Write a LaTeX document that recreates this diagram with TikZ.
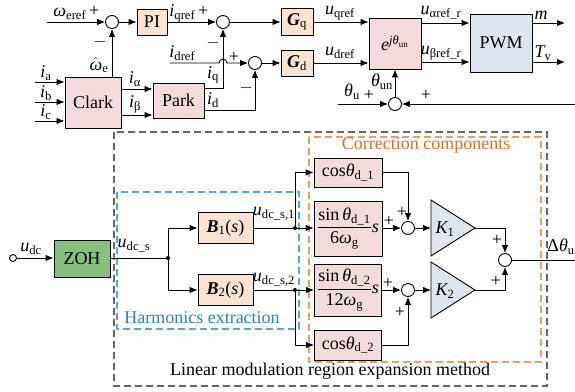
\documentclass[tikz,border=0pt]{standalone}
\usepackage{amsmath}
\usepackage{fontspec}
\setmainfont{Liberation Serif}
\usetikzlibrary{arrows.meta}
\newcommand{\vv}[2]{\ensuremath{\textit{#1}_{\text{#2}}}}
\definecolor{peach}{HTML}{FBE3D3}
\definecolor{pinkb}{HTML}{F2DCDB}
\definecolor{blueg}{HTML}{DEE5EF}
\definecolor{zohg}{HTML}{86BF7F}
\definecolor{dashblue}{HTML}{5AA2DA}
\definecolor{txtblue}{HTML}{2F7FC4}
\definecolor{dashor}{HTML}{EE9A6A}
\definecolor{txtor}{HTML}{E2692C}
\definecolor{dashgray}{HTML}{666666}
\begin{document}
\begin{tikzpicture}[x=1pt,y=-1pt,line width=0.9pt,
  every node/.style={font=\fontsize{18}{21}\selectfont,inner sep=0pt},
  >={Latex[length=8pt,width=6.5pt]},
  pblock/.style={draw,fill=peach},
  kblock/.style={draw,fill=pinkb},
  bblock/.style={draw,fill=blueg},
  sumc/.style={circle,draw,fill=white,minimum size=13pt,inner sep=0pt},
  dotc/.style={circle,fill,minimum size=4pt,inner sep=0pt},
  incirc/.style={circle,draw,fill=white,minimum size=7pt,inner sep=0pt},
  gdash/.style={draw=dashgray,line width=1.1pt,dash pattern=on 7pt off 4pt},
  bdash/.style={draw=dashblue,line width=1.1pt,dash pattern=on 7pt off 4pt},
  odash/.style={draw=dashor,line width=1.1pt,dash pattern=on 7pt off 4pt}]
\useasboundingbox (0,0) rectangle (575,391);

% ---------------- dashed frames ----------------
\draw[gdash] (114,132) rectangle (547,386);
\draw[bdash] (117,192) rectangle (299,329);
\draw[odash] (309,137) rectangle (541,362);
\node[text=txtor] (tcc) at (426,145) {Correction components};
\node[text=txtblue] (the) at (202,318) {Harmonics extraction};
\node (tlm) at (330,371) {Linear modulation region expansion method};

% ---------------- top part ----------------
\node[sumc] (s1) at (112,22) {};
\node[pblock,minimum width=30pt,minimum height=26pt] (PI) at (152,22) {PI};
\node[sumc] (s2) at (223,22) {};
\node[pblock,minimum width=32pt,minimum height=27pt] (Gq) at (297,22) {\textbf{\textit{G}}$_{\text{q}}$};
\node[pblock,minimum width=32pt,minimum height=26pt] (Gd) at (297,63) {\textbf{\textit{G}}$_{\text{d}}$};
\node[sumc] (s3) at (255,63) {};
\node[kblock,minimum width=52pt,minimum height=51pt] (E) at (395,43.5) {$\textit{e}^{\textit{jθ}_{\text{un}}}$};
\node[bblock,minimum width=62pt,minimum height=58pt] (PWM) at (501,43) {PWM};
\node[kblock,minimum width=56pt,minimum height=51pt] (Clark) at (93,102.5) {Clark};
\node[kblock,minimum width=51pt,minimum height=35pt] (Park) at (178.5,100.5) {Park};
\node[sumc] (s4) at (395,104) {};

\coordinate (win) at (47,22);
\coordinate (idin) at (170,63);
\coordinate (tuin) at (338,104);
\coordinate (fbin) at (575,104);
\coordinate (mout) at (565,23);
\coordinate (tvout) at (565,62);

\draw[->] (win) -- (s1.west);
\draw[->] (s1.east) -- (PI.west);
\draw[->] (PI.east) -- (s2.west);
\draw[->] (s2.east) -- (Gq.west);
\draw[->] (Gq.east) -- (E.west |- Gq.east);
\draw[->] (Gd.east) -- (E.west |- Gd.east);
\draw[->] (s3.east) -- (Gd.west);
\draw[->] (idin) -- (219,63) arc (180:360:4) -- (s3.west);
\draw[->] (s1 |- Clark.north) -- (s1.south);
\draw[->] (Park.east |- 0,88) -- (s2 |- 0,88) -- (s2.south);
\draw[->] (Park.east |- 0,110) -- (s3 |- 0,110) -- (s3.south);
\draw[->] (35,82) -- (Clark.west |- 0,82);
\draw[->] (35,102) -- (Clark.west |- 0,102);
\draw[->] (35,121) -- (Clark.west |- 0,121);
\draw[->] (Clark.east |- 0,89) -- (Park.west |- 0,89);
\draw[->] (Clark.east |- 0,115) -- (Park.west |- 0,115);
\draw[->] (E.east |- 0,23) -- (PWM.west |- 0,23);
\draw[->] (E.east |- 0,62) -- (PWM.west |- 0,62);
\draw[->] (PWM.east |- mout) -- (mout);
\draw[->] (PWM.east |- tvout) -- (tvout);
\draw[->] (s4.north) -- (E.south);
\draw[->] (tuin) -- (s4.west);
\draw[->] (fbin) -- (s4.east);

% top labels
\node[anchor=west] (lwe) at (53,13) {\vv{ω}{eref}\,+};
\node[anchor=west] (liq) at (169,13) {\vv{i}{qref}\,+};
\node (lm2) at (213,43) {$-$};
\node[anchor=west] (lid) at (169,53) {\vv{i}{dref}};
\node (lp3) at (234,57) {+};
\node (lm3) at (246,88) {$-$};
\node (liqq) at (213,75) {\vv{i}{q}};
\node (lidd) at (213,100) {\vv{i}{d}};
\node (luq) at (340,13) {\vv{u}{qref}};
\node (lud) at (340,53) {\vv{u}{dref}};
\node (lua) at (441,13) {\vv{u}{αref\_r}};
\node (lub) at (441,53) {\vv{u}{βref\_r}};
\node (lmm) at (541,15) {\textit{m}};
\node (ltv) at (543,53) {\vv{T}{v}};
\node (ltun) at (382,82) {\vv{θ}{un}};
\node (ltu) at (352,92) {\vv{θ}{u}};
\node (lp4a) at (369,95) {+};
\node (lp4b) at (426,95) {+};
\node (lwh) at (99,65) {$\hat{\textit{ω}}_{\text{e}}$};
\node (lm1) at (100,42) {$-$};
\node (lia) at (46,73) {\vv{i}{a}};
\node (lib) at (46,93) {\vv{i}{b}};
\node (lic) at (46,112) {\vv{i}{c}};
\node (lial) at (135,79) {\vv{i}{α}};
\node (libe) at (135,104) {\vv{i}{β}};

% ---------------- bottom part ----------------
\node[incirc] (udin) at (13,258) {};
\node[draw,fill=zohg,minimum width=56pt,minimum height=37pt] (ZOH) at (82,258.5) {ZOH};
\node[dotc] (d0) at (168,258) {};
\node[pblock,minimum width=55pt,minimum height=31pt] (B1) at (225.5,228) {\textbf{\textit{B}}$_{\text{1}}$(\textit{s})};
\node[pblock,minimum width=55pt,minimum height=31pt] (B2) at (225.5,290) {\textbf{\textit{B}}$_{\text{2}}$(\textit{s})};
\node[dotc] (d1) at (295,228) {};
\node[dotc] (d2) at (295,290) {};
\node[kblock,minimum width=68pt,minimum height=29pt] (C1) at (348,172.5) {cos\vv{θ}{d\_1}};
\node[kblock,minimum width=68pt,minimum height=55pt] (S1) at (348,228.5) {$\dfrac{\text{sin}\,\textit{θ}_{\text{d\_1}}}{\text{6}\textit{ω}_{\text{g}}}\textit{s}$};
\node[kblock,minimum width=67pt,minimum height=52pt] (S2) at (348,290) {$\dfrac{\text{sin}\,\textit{θ}_{\text{d\_2}}}{\text{12}\textit{ω}_{\text{g}}}\textit{s}$};
\node[kblock,minimum width=67pt,minimum height=30pt] (C2) at (348,345) {cos\vv{θ}{d\_2}};
\node[sumc] (s5) at (408,228) {};
\node[sumc] (s7) at (408,290) {};
\node[sumc] (s6) at (505,260) {};

\draw[fill=blueg] (431,200) -- (475,228) -- (431,256) -- cycle;
\draw[fill=blueg] (431,262) -- (475,290) -- (431,318) -- cycle;
\coordinate (K1in) at (431,228);
\coordinate (K1out) at (475,228);
\coordinate (K2in) at (431,290);
\coordinate (K2out) at (475,290);
\node (K1) at (445,229) {\vv{K}{1}};
\node (K2) at (445,291) {\vv{K}{2}};
\coordinate (dtout) at (575,260);

\draw[->] (udin.east) -- (ZOH.west |- udin);
\draw (ZOH.east |- d0) -- (d0);
\draw[->] (d0.center) -- (d0 |- B1.west) -- (B1.west);
\draw[->] (d0.center) -- (d0 |- B2.west) -- (B2.west);
\draw (B1.east) -- (d1);
\draw[->] (d1.center) -- (S1.west |- d1);
\draw[->] (d1.center) -- (d1 |- C1.west) -- (C1.west);
\draw (B2.east) -- (d2);
\draw[->] (d2.center) -- (S2.west |- d2);
\draw[->] (d2.center) -- (d2 |- C2.west) -- (C2.west);
\draw[->] (S1.east |- s5) -- (s5.west);
\draw[->] (C1.east) -- (s5 |- C1.east) -- (s5.north);
\draw[->] (s5.east) -- (K1in);
\draw[->] (K1out) -- (s6 |- K1out) -- (s6.north);
\draw[->] (S2.east |- s7) -- (s7.west);
\draw[->] (C2.east) -- (s7 |- C2.east) -- (s7.south);
\draw[->] (s7.east) -- (K2in);
\draw[->] (K2out) -- (s6 |- K2out) -- (s6.south);
\draw (s6.east) -- (dtout);

% bottom labels
\node (ludc) at (31,249) {\vv{u}{dc}};
\node (luds) at (134,246) {\vv{u}{dc\_s}};
\node (lud1) at (274,214) {\vv{u}{dc\_s,1}};
\node (lud2) at (274,280) {\vv{u}{dc\_s,2}};
\node (lp5a) at (402,212) {+};
\node (lp5b) at (389,221) {+};
\node (lp7a) at (388,283) {+};
\node (lp7b) at (400,312) {+};
\node (lp6a) at (497,240) {+};
\node (lp6b) at (496,281) {+};
\node[anchor=west] (ldt) at (547,247) {$\text{Δ}\textit{θ}_{\text{u}}$};
\end{tikzpicture}
\end{document}
